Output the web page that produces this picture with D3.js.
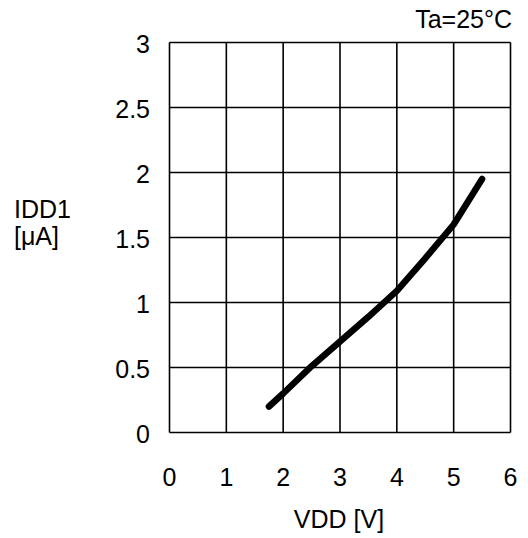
<!DOCTYPE html>
<html><head><meta charset="utf-8">
<script src="https://cdn.jsdelivr.net/npm/d3@7"></script>
<style>body{margin:0;background:#fff}text{font-family:"Liberation Sans",Arial,sans-serif;fill:#000}</style>
</head><body><svg id="c" width="528" height="538"></svg>
<script>
const vdd = [1.75, 2, 2.5, 3, 3.5, 4, 4.5, 5, 5.5];
const idd = [0.2, 0.3, 0.51, 0.7, 0.89, 1.09, 1.34, 1.6, 1.95];
const xTicks = [0, 1, 2, 3, 4, 5, 6];
const yTicks = [0, 0.5, 1, 1.5, 2, 2.5, 3];
const yTickLabels = ["0", "0.5", "1", "1.5", "2", "2.5", "3"];

const svg = d3.select("#c");
const x = d3.scaleLinear().domain([0, 6]).range([169.5, 510.5]);
const y = d3.scaleLinear().domain([0, 3]).range([432.5, 42.5]);
const fs = 25;

const g = svg.append("g");
g.selectAll("line.v").data(xTicks).join("line")
  .attr("x1", d => x(d)).attr("x2", d => x(d)).attr("y1", y(0)).attr("y2", y(3))
  .attr("stroke", "#000").attr("stroke-width", 1.6);
g.selectAll("line.h").data(yTicks).join("line")
  .attr("y1", d => y(d)).attr("y2", d => y(d)).attr("x1", x(0)).attr("x2", x(6))
  .attr("stroke", "#000").attr("stroke-width", 1.6);

g.selectAll("text.yt").data(yTicks).join("text")
  .attr("x", 150).attr("y", d => y(d) + 10)
  .attr("text-anchor", "end").attr("font-size", fs)
  .text((d, i) => yTickLabels[i]);
g.selectAll("text.xt").data(xTicks).join("text")
  .attr("x", d => x(d)).attr("y", 486)
  .attr("text-anchor", "middle").attr("font-size", fs)
  .text(d => d);

svg.append("text").attr("x", 339).attr("y", 528).attr("text-anchor", "middle").attr("font-size", fs).text("VDD [V]");
svg.append("text").attr("x", 512).attr("y", 28).attr("text-anchor", "end").attr("font-size", fs).text("Ta=25°C");
svg.append("text").attr("x", 14).attr("y", 218).attr("font-size", fs).text("IDD1");
svg.append("text").attr("x", 14).attr("y", 245).attr("font-size", fs).text("[μA]");

const pts = vdd.map((v, i) => [v, idd[i]]);
svg.append("path").datum(pts)
  .attr("d", d3.line().x(d => x(d[0])).y(d => y(d[1])).curve(d3.curveLinear))
  .attr("fill", "none").attr("stroke", "#000").attr("stroke-width", 6.5)
  .attr("stroke-linecap", "round").attr("stroke-linejoin", "round");
</script></body></html>
